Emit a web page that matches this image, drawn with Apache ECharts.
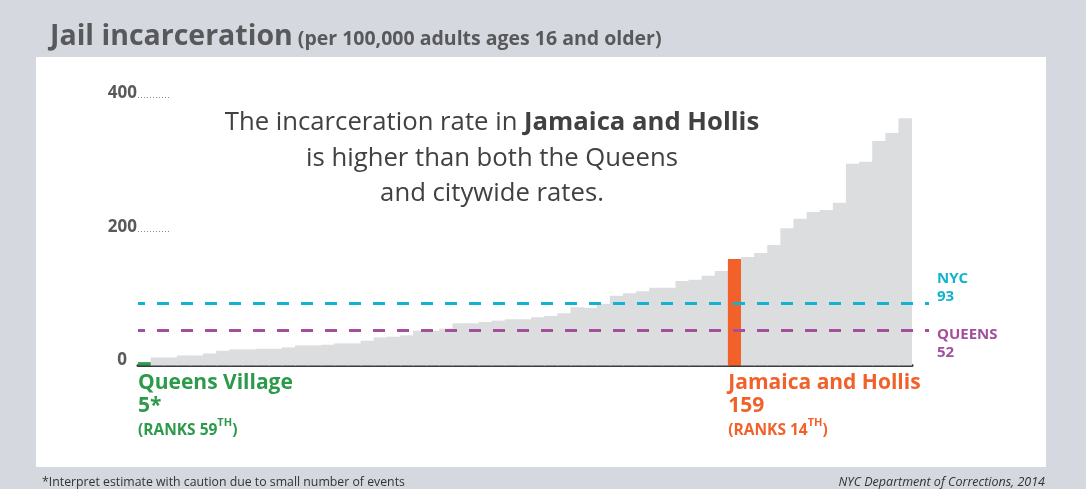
<!DOCTYPE html>
<html>
<head>
<meta charset="utf-8">
<script src="https://cdn.jsdelivr.net/npm/echarts@6/dist/echarts.min.js"></script>
<style>
html,body{margin:0;padding:0;background:#d5d8de;}
#chart{width:1086px;height:489px;}
</style>
</head>
<body>
<div id="chart"></div>
<script>
// Community districts ranked 59 (lowest) ... 1 (highest)
const categories = ['59','58','57','56','55','54','53','52','51','50','49','48','47','46','45','44','43','42','41','40',
  '39','38','37','36','35','34','33','32','31','30','29','28','27','26','25','24','23','22','21','20',
  '19','18','17','16','15','14','13','12','11','10','9','8','7','6','5','4','3','2','1'];
// Jail incarceration per 100,000 adults ages 16+
const rates = [5,12,12,15,15,18,22,24,24,25,25,27,30,30,31,33,33,37,42,43,
  45,52,52,55,63,63,65,67,69,69,72,74,78,87,86,92,104,108,111,116,
  116,126,128,134,141,159,162,168,180,205,219,229,232,243,301,304,335,347,369];
const yTicks = [0, 200, 400];
const nycRate = 93;
const queensRate = 52;
const highlightIdx = [0, 45];
const highlightNames = ['Queens Village', 'Jamaica and Hollis'];
const highlightValueLabels = ['5*', '159'];
const highlightRanks = ['59', '14'];
const highlightColors = ['#2c9a4a', '#f26129'];

const FONT = '"Open Sans", "Noto Sans", sans-serif';
const barColor = '#dcdddf';
const cyan = '#11b3cf';
const purple = '#a2509c';

const chart = echarts.init(document.getElementById('chart'), null, {renderer: 'canvas'});

const barData = rates.map((v, i) => {
  const h = highlightIdx.indexOf(i);
  return h >= 0 ? {value: v, itemStyle: {color: highlightColors[h]}} : v;
});

function hlLabel(v) {
  for (let h = 0; h < highlightIdx.length; h++) {
    if (Math.abs(v - (highlightIdx[h] - 0.5)) < 1e-6) {
      const k = h === 0 ? 'g' : 'o';
      return '{' + k + 'n|' + highlightNames[h] + '}\n{' + k + 'v|' + highlightValueLabels[h] + '}\n{' + k + 'r|(RANKS ' + highlightRanks[h] + '}{' + k + 's|TH}{' + k + 'r|)}';
    }
  }
  return '';
}
function richFor(c) {
  return {
    n: {color: c, fontFamily: FONT, fontWeight: 'bold', fontSize: 21, lineHeight: 23},
    v: {color: c, fontFamily: FONT, fontWeight: 'bold', fontSize: 21, lineHeight: 23},
    r: {color: c, fontFamily: FONT, fontWeight: 'bold', fontSize: 15.5, lineHeight: 26},
    s: {color: c, fontFamily: FONT, fontWeight: 'bold', fontSize: 11, lineHeight: 24, verticalAlign: 'top'}
  };
}
const rg = richFor(highlightColors[0]), ro = richFor(highlightColors[1]);
const rich = {
  gn: rg.n, gv: rg.v, gr: rg.r, gs: rg.s,
  on: ro.n, ov: ro.v, or: ro.r, os: ro.s
};

const option = {
  backgroundColor: '#d5d8de',
  animation: false,
  graphic: [
    {type: 'rect', z: -10, shape: {x: 36, y: 57, width: 1010, height: 410}, style: {fill: '#ffffff'}}
  ],
  title: [
    {
      text: '{a|Jail incarceration} {b|(per 100,000 adults ages 16 and older)}',
      left: 50, top: 22, padding: 0,
      textStyle: {rich: {
        a: {fontFamily: FONT, fontWeight: 'bold', fontSize: 28.5, color: '#58595b'},
        b: {fontFamily: FONT, fontWeight: 'bold', fontSize: 19.5, color: '#58595b', padding: [5, 0, 0, 0]}
      }}
    },
    {
      text: '{n|The incarceration rate in }{b|Jamaica and Hollis}\n{n|is higher than both the Queens}\n{n|and citywide rates.}',
      left: 492, top: 105, textAlign: 'center', padding: 0,
      textStyle: {rich: {
        n: {fontFamily: FONT, fontSize: 25.7, fontWeight: 'normal', color: '#414042', lineHeight: 35.5},
        b: {fontFamily: FONT, fontSize: 25.7, fontWeight: 'bold', color: '#414042', lineHeight: 35.5}
      }}
    },
    {
      text: '*Interpret estimate with caution due to small number of events',
      left: 42, top: 476, padding: 0,
      textStyle: {fontFamily: FONT, fontSize: 12.3, fontWeight: 'normal', color: '#333333'}
    },
    {
      text: 'NYC Department of Corrections, 2014',
      right: 41, top: 476, padding: 0,
      textStyle: {fontFamily: FONT, fontSize: 12.5, fontWeight: 'normal', fontStyle: 'italic', color: '#333333'}
    }
  ],
  grid: [
    {left: 138, right: 174, top: 97.5, bottom: 123.5, containLabel: false},
    {left: 138, right: 157, top: 97.5, bottom: 123.5, containLabel: false}
  ],
  xAxis: [
    {
      type: 'category', data: categories, boundaryGap: true, gridIndex: 0,
      axisLine: {show: true, onZero: false, lineStyle: {color: '#3a3a3c', width: 3}},
      axisTick: {show: false}, axisLabel: {show: false}, splitLine: {show: false}
    },
    {
      type: 'value', min: -0.5, max: 58.5, position: 'bottom', gridIndex: 0,
      axisLine: {show: false, onZero: false}, axisTick: {show: false}, splitLine: {show: false},
      axisLabel: {
        show: true, customValues: [highlightIdx[0] - 0.5, highlightIdx[1] - 0.5],
        align: 'left', verticalAlign: 'top', margin: 6,
        formatter: hlLabel, rich: rich
      }
    },
    {
      type: 'value', min: 0, max: 1, gridIndex: 1, show: false
    }
  ],
  yAxis: [
    {
      type: 'value', min: 0, max: 400, interval: 200, gridIndex: 0,
      axisLine: {show: false, onZero: false}, splitLine: {show: false},
      axisTick: {show: true, inside: true, length: 32, customValues: [200, 400],
        lineStyle: {color: '#8a8a8c', width: 1, type: [1, 2]}},
      axisLabel: {
        margin: 1,
        formatter: v => (v === 0 ? '{z|' + v + '}' : '{n|' + v + '}'),
        rich: {
          n: {fontFamily: FONT, fontWeight: 'bold', fontSize: 17, color: '#58595b', padding: [0, 0, 9, 0]},
          z: {fontFamily: FONT, fontWeight: 'bold', fontSize: 17, color: '#58595b', padding: [0, 10, 11, 0]}
        }
      }
    },
    {type: 'value', min: 0, max: 400, gridIndex: 1, show: false}
  ],
  series: [
    {
      type: 'bar', data: barData, barWidth: '107%', barGap: '-100%',
      itemStyle: {color: barColor}, silent: true, z: 2
    },
    {
      type: 'line', xAxisIndex: 2, yAxisIndex: 1, data: [], silent: true, z: 5,
      markLine: {
        silent: true, symbol: 'none', animation: false,
        data: [
          {yAxis: nycRate, lineStyle: {color: cyan, width: 3, type: [12, 12], dashOffset: 5},
            label: {show: true, position: 'end', distance: 8, formatter: '{c|NYC}\n{c|' + nycRate + '}',
              rich: {c: {fontFamily: FONT, fontWeight: 'bold', fontSize: 15, color: cyan, lineHeight: 18}},
              padding: [0, 0, 31, 0]}},
          {yAxis: queensRate, lineStyle: {color: purple, width: 3, type: [12, 12], dashOffset: 5},
            label: {show: true, position: 'end', distance: 8, formatter: '{c|QUEENS}\n{c|' + queensRate + '}',
              rich: {c: {fontFamily: FONT, fontWeight: 'bold', fontSize: 15, color: purple, lineHeight: 18}},
              padding: [27, 0, 0, 0]}}
        ]
      }
    }
  ]
};
chart.setOption(option);
</script>
</body>
</html>
